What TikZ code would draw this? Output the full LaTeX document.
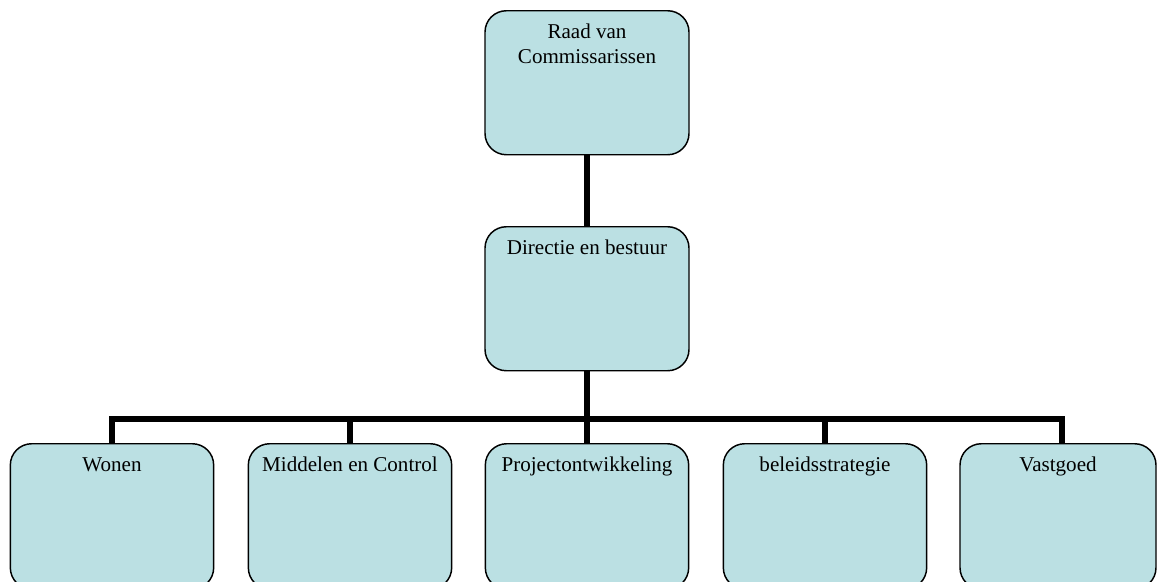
\documentclass[tikz,border=0pt]{standalone}
\usepackage{fontspec}
\setmainfont{Liberation Serif}
\definecolor{boxfill}{RGB}{187,224,227}
\tikzset{
  orgbox/.style={draw=black, fill=boxfill, line width=1.1pt, rounded corners=16pt,
    inner sep=0pt, anchor=north, minimum width=152.5pt, text height=21pt,
    font=\fontsize{15.8}{18.75}\selectfont},
  topbox/.style={orgbox, minimum width=153pt, text depth=87pt},
  unitbox/.style={orgbox, text depth=88pt},
  conn/.style={line width=4.5pt, line join=miter}
}
\begin{document}
\begin{tikzpicture}[x=0.75pt, y=-0.75pt]
  \useasboundingbox (0,0) rectangle (1157,582);
  % management
  \node[topbox] (rvc) at (587,10) {\parbox[t]{150pt}{\centering Raad van\\Commissarissen}};
  \node[topbox] (dir) at (587,226) {Directie en bestuur};
  % departments
  \node[unitbox] (won) at (112,443) {Wonen};
  \node[unitbox] (mid) at (350,443) {Middelen en Control};
  \node[unitbox] (pro) at (587,443) {Projectontwikkeling};
  \node[unitbox] (bel) at (825,443) {beleidsstrategie};
  \node[unitbox, minimum width=147pt] (vas) at (1058,443) {Vastgoed};
  % connectors
  \coordinate (busL) at (112,418.5);
  \coordinate (busR) at (1062,418.5);
  \draw[conn] (rvc.south) -- (dir.north);
  \draw[conn] (won.north) -- (busL) -- (busR) -- (busR |- vas.north);
  \draw[conn] (dir.south) -- (pro.north);
  \draw[conn] (mid.north) -- (mid.north |- busL);
  \draw[conn] (bel.north) -- (bel.north |- busL);
\end{tikzpicture}
\end{document}
